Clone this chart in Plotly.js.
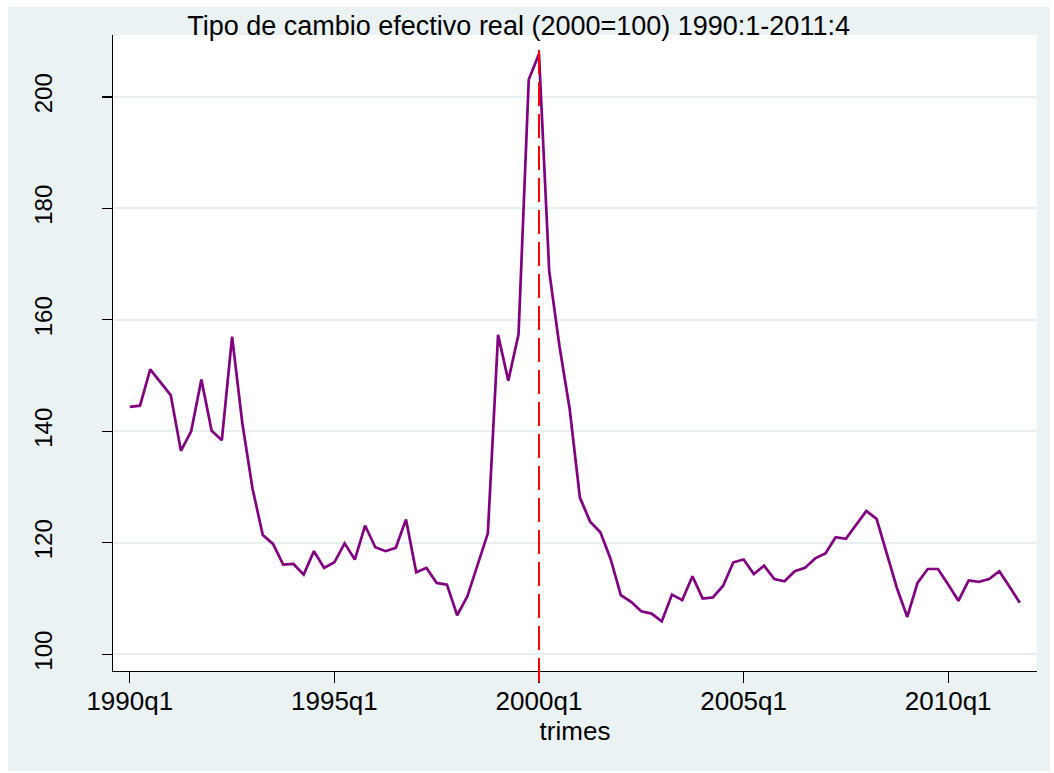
<!DOCTYPE html>
<html>
<head>
<meta charset="utf-8">
<script src="https://cdn.plot.ly/plotly-3.0.1.min.js"></script>
<style>
  html, body { margin: 0; padding: 0; background: #ffffff; }
  #chart { position: absolute; left: 8px; top: 7px; width: 1042px; height: 764px; }
</style>
</head>
<body>
<div id="chart"></div>
<script>
// Real effective exchange rate index (2000=100), quarterly 1990q1-2011q4
const firstYear = 1990;
const lastYear = 2011;

const tcer1990s = [
  144.4, 144.6, 151.1, 148.8,   // 1990
  146.5, 136.5, 140.0, 149.3,   // 1991
  140.1, 138.4, 157.0, 141.5,   // 1992
  129.7, 121.4, 119.8, 116.1,   // 1993
  116.2, 114.3, 118.5, 115.5,   // 1994
  116.5, 119.9, 117.0, 123.1,   // 1995
  119.2, 118.5, 119.1, 124.2,   // 1996
  114.7, 115.5, 112.8, 112.5,   // 1997
  107.0, 110.4, 116.1, 121.7,   // 1998
  157.3, 149.1, 157.4, 203.1    // 1999
];
const tcer2000s = [
  207.7, 168.7, 155.3, 144.0,   // 2000
  128.1, 123.8, 121.9, 117.1,   // 2001
  110.6, 109.4, 107.7, 107.3,   // 2002
  105.9, 110.7, 109.7, 114.0,   // 2003
  110.0, 110.2, 112.3, 116.5,   // 2004
  117.0, 114.4, 115.9, 113.5,   // 2005
  113.1, 114.9, 115.5, 117.2,   // 2006
  118.1, 121.0, 120.7, 123.3,   // 2007
  125.7, 124.3, 117.9, 111.8,   // 2008
  106.7, 112.8, 115.3, 115.3,   // 2009
  112.5, 109.6, 113.25, 113.0,  // 2010
  113.5, 114.9, 112.1, 109.25   // 2011
];

const xTickLabels = ['1990q1', '1995q1', '2000q1', '2005q1', '2010q1'];
const yTickValues = [100, 120, 140, 160, 180, 200];
const markerPeriod = '2000q1';

// Stata-style quarter labels and sequential positions
const periods = [];
for (let y = firstYear; y <= lastYear; y++) {
  for (let q = 1; q <= 4; q++) periods.push(y + 'q' + q);
}
const tcer = tcer1990s.concat(tcer2000s);
const xs = periods.map((_, i) => i);
const tickPos = xTickLabels.map(l => periods.indexOf(l));
const markerPos = periods.indexOf(markerPeriod);

const fontFamily = '"Liberation Sans", Arial, sans-serif';

const trace = {
  x: xs,
  y: tcer,
  type: 'scatter',
  mode: 'lines',
  line: { color: '#800080', width: 2.7 },
  hoverinfo: 'skip'
};

const layout = {
  width: 1042,
  height: 764,
  paper_bgcolor: '#eaf2f3',
  plot_bgcolor: '#ffffff',
  margin: { l: 105, r: 13, t: 27.5, b: 100 },
  showlegend: false,
  font: { family: fontFamily, color: '#000000', size: 26 },
  title: {
    text: 'Tipo de cambio efectivo real (2000=100) 1990:1-2011:4',
    font: { family: fontFamily, size: 27, color: '#000000' },
    xref: 'container', x: 0.49, xanchor: 'center',
    yref: 'container', y: 0.976, yanchor: 'middle'
  },
  xaxis: {
    range: [-1.64, 88.68],
    tickmode: 'array',
    tickvals: tickPos,
    ticktext: xTickLabels,
    ticks: 'outside',
    ticklen: 11,
    tickwidth: 1.3,
    tickcolor: '#000000',
    ticklabelstandoff: -5,
    tickfont: { family: fontFamily, size: 26, color: '#000000' },
    showline: true,
    linecolor: '#000000',
    linewidth: 1.4,
    showgrid: false,
    zeroline: false,
    title: {
      text: 'trimes',
      font: { family: fontFamily, size: 26, color: '#000000' },
      standoff: 2
    }
  },
  yaxis: {
    range: [97.0, 211.1],
    tickmode: 'array',
    tickvals: yTickValues,
    ticks: 'outside',
    ticklen: 10,
    tickwidth: 1.3,
    tickcolor: '#000000',
    tickangle: -90,
    ticklabelstandoff: 40,
    tickfont: { family: fontFamily, size: 24, color: '#000000' },
    showline: true,
    linecolor: '#000000',
    linewidth: 1.4,
    showgrid: true,
    gridcolor: '#e7eff1',
    gridwidth: 2,
    zeroline: false
  },
  shapes: [{
    type: 'line',
    xref: 'x', x0: markerPos, x1: markerPos,
    yref: 'paper', y0: -0.0173, y1: 0.988,
    line: { color: '#ff0000', width: 2, dash: '24px,8px' },
    layer: 'above'
  }]
};

Plotly.newPlot('chart', [trace], layout, { displayModeBar: false, staticPlot: true });
</script>
</body>
</html>
